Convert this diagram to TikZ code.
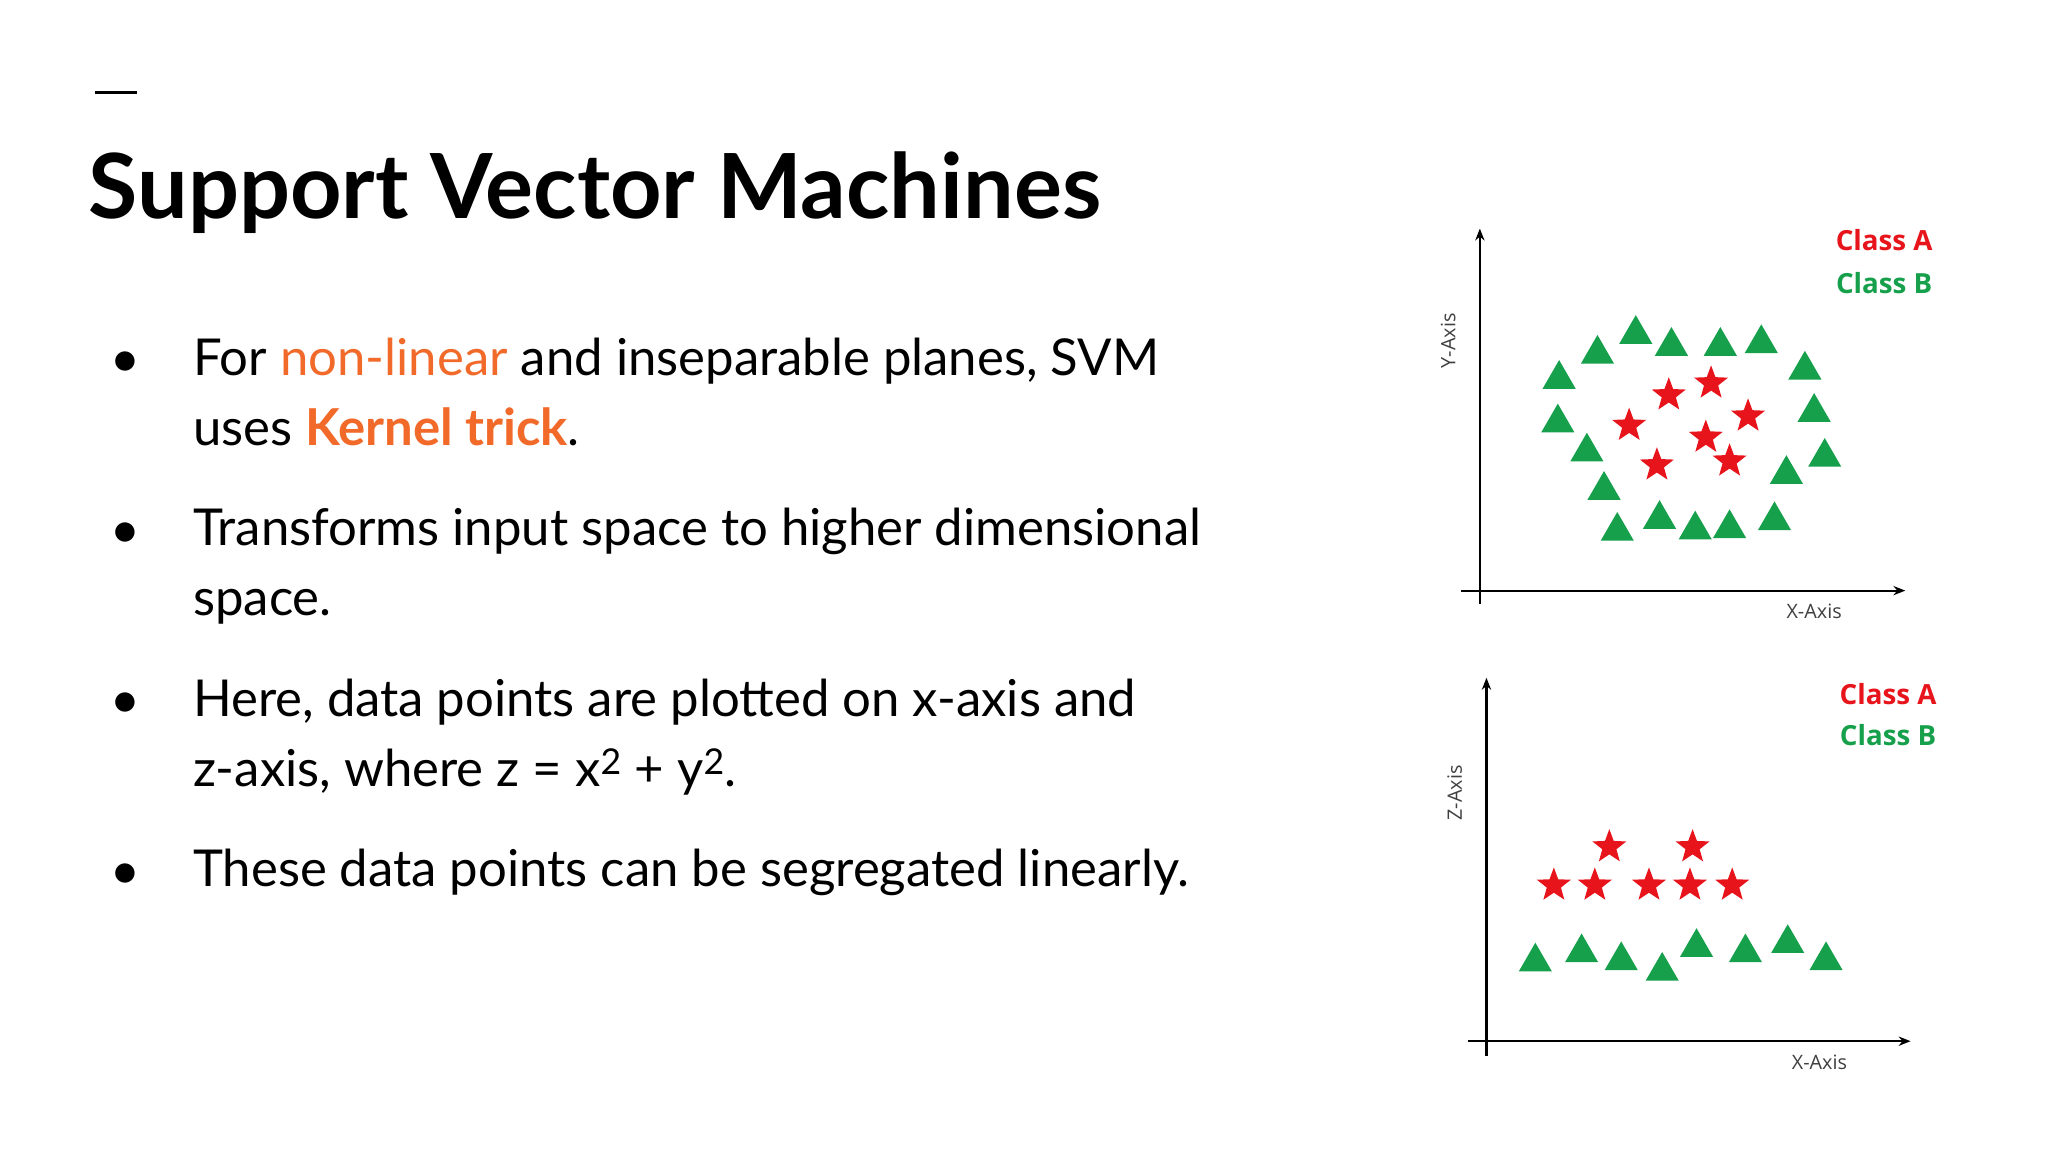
\documentclass[tikz,border=0pt]{standalone}
\usepackage{fontspec}
\setmainfont{Lato}
\newfontfamily\plotfont{Open Sans}
\usetikzlibrary{shapes.geometric,arrows.meta}
\definecolor{hl}{HTML}{F26A2A}
\definecolor{redA}{HTML}{E8141B}
\definecolor{greenB}{HTML}{17A04C}
\tikzset{
  body/.style={anchor=base west,font=\fontsize{38.5}{42}\selectfont,text=black,inner sep=0pt},
  bul/.style={anchor=base,font=\fontsize{30}{36}\selectfont,inner sep=0pt},
  tri/.style={regular polygon,regular polygon sides=3,fill=greenB,minimum size=29pt,inner sep=0pt},
  st/.style={star,star points=5,star point ratio=2.4,fill=redA,minimum size=27pt,inner sep=0pt},
  ax/.style={line width=1.6pt,-{Stealth[length=9pt,width=7pt]}},
  axl/.style={font=\plotfont\fontsize{15}{18}\selectfont,text=black!75},
  cls/.style={font=\plotfont\bfseries\fontsize{21}{24}\selectfont,anchor=center}
}
\begin{document}
\begin{tikzpicture}[x=1pt,y=-1pt]
\useasboundingbox (0,0) rectangle (1550,872);
\fill[white] (0,0) rectangle (1550,872);
\draw[line width=2.5pt] (72,70) -- (104,70);
\node[anchor=base west,inner sep=0pt,font=\bfseries\fontsize{68}{74}\selectfont] (title) at (67,165) {Support Vector Machines};
% bullets
\foreach \y/\n in {283/b1,412/b2,541/b3,670/b4} \node[bul] (\n) at (95,\y) {●};
\node[body] (t1) at (146,284) {For \textcolor{hl}{non-linear} and inseparable planes, SVM};
\node[body] (t2) at (146,337) {uses \textcolor{hl}{\bfseries Kernel trick}.};
\node[body] (t3) at (146,413) {Transforms input space to higher dimensional};
\node[body] (t4) at (146,466) {space.};
\node[body] (t5) at (146,542) {Here, data points are plotted on x-axis and};
\node[body] (t6) at (146,595) {z-axis, where z = x\textsuperscript{2} + y\textsuperscript{2}.};
\node[body] (t7) at (146,671) {These data points can be segregated linearly.};
\begin{scope}[shift={(-12,-5)}]
% plot 1
\coordinate (y1s) at (1132,462); \coordinate (y1e) at (1132,178);
\coordinate (x1s) at (1118,452); \coordinate (x1e) at (1454,452);
\draw[ax] (y1s) -- (y1e);
\draw[ax] (x1s) -- (x1e);
\node[axl,rotate=90] (ylab) at (1108,263) {Y-Axis};
\node[axl] (xlab1) at (1385,468) {X-Axis};
\node[cls,text=redA] (ca1) at (1438,187) {Class A};
\node[cls,text=greenB] (cb1) at (1438,219) {Class B};
\foreach \x/\y [count=\i] in {1192/292,1221/273,1250/258,1277/267,1314/267,1345/265,1378/285,1191/325,1213/347,1385/317,1393/351,1226/376,1364/364,1236/407,1268/398,1295/406,1321/405,1355/399}
  \node[tri] (ta\i) at (\x,\y) {};
\foreach \x/\y [count=\i] in {1275/304,1307/295,1245/327,1335/320,1303/336,1266/357,1321/354}
  \node[st] (sa\i) at (\x,\y) {};
% plot 2
\coordinate (y2s) at (1137,804); \coordinate (y2e) at (1137,518);
\coordinate (x2s) at (1123,793); \coordinate (x2e) at (1458,793);
\draw[ax] (y2s) -- (y2e);
\draw[ax] (x2s) -- (x2e);
\node[axl,rotate=90] (zlab) at (1113,605) {Z-Axis};
\node[axl] (xlab2) at (1389,809) {X-Axis};
\node[cls,text=redA] (ca2) at (1441,530) {Class A};
\node[cls,text=greenB] (cb2) at (1441,561) {Class B};
\foreach \x/\y [count=\i] in {1174/733,1209/726,1239/732,1270/740,1296/722,1333/726,1365/719,1394/732}
  \node[tri] (tb\i) at (\x,\y) {};
\foreach \x/\y [count=\i] in {1230/646,1293/646,1188/675,1219/675,1260/675,1291/675,1323/675}
  \node[st] (sb\i) at (\x,\y) {};
\end{scope}
\end{tikzpicture}
\end{document}
